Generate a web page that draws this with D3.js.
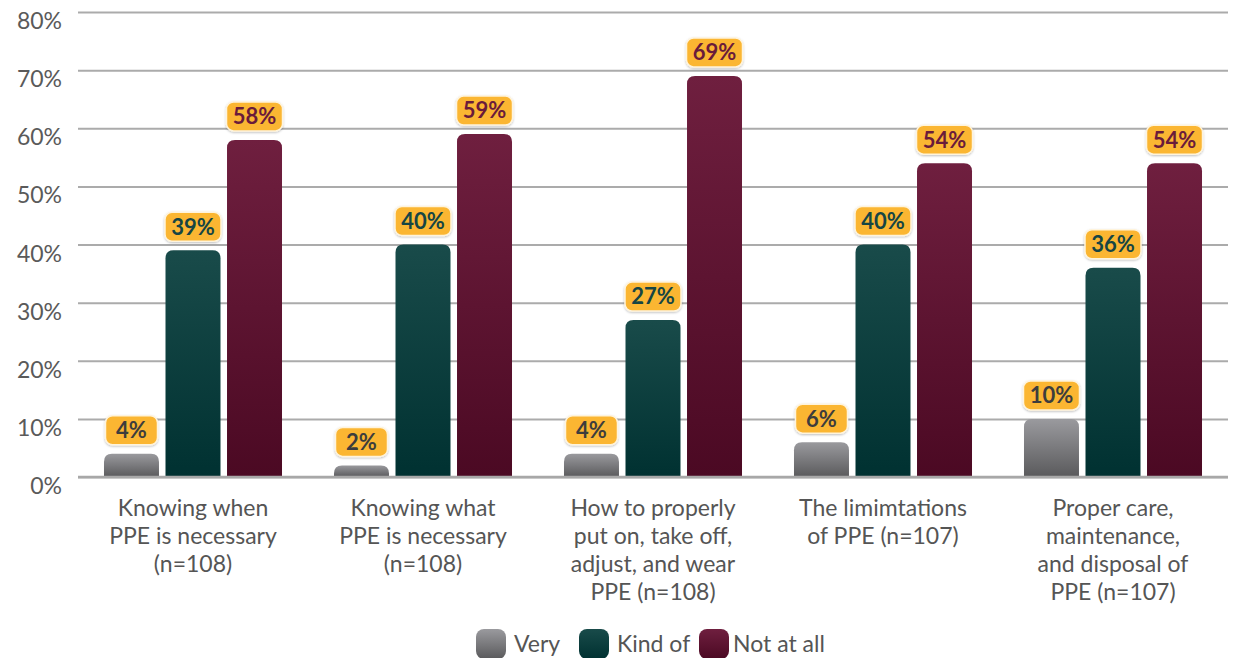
<!DOCTYPE html>
<html>
<head>
<meta charset="utf-8">
<script src="https://cdn.jsdelivr.net/npm/d3@7"></script>
<style>
  html, body { margin: 0; padding: 0; background: #fff; }
  svg { display: block; font-family: Lato, "Open Sans", sans-serif; }
</style>
</head>
<body>
<svg id="chart" width="1234" height="658"></svg>
<script>
// Survey topics (x-axis categories)
const categories = [
  ["Knowing when", "PPE is necessary", "(n=108)"],
  ["Knowing what", "PPE is necessary", "(n=108)"],
  ["How to properly", "put on, take off,", "adjust, and wear", "PPE (n=108)"],
  ["The limimtations", "of PPE (n=107)"],
  ["Proper care,", "maintenance,", "and disposal of", "PPE (n=107)"]
];
const seriesNames = ["Very", "Kind of", "Not at all"];
const very     = [4, 2, 4, 6, 10];
const kindOf   = [39, 40, 27, 40, 36];
const notAtAll = [58, 59, 69, 54, 54];
const yTicks   = [0, 10, 20, 30, 40, 50, 60, 70, 80];

const seriesValues = [very, kindOf, notAtAll];
const gradStops = [
  ["#9a9a9e", "#5a5a5c"],
  ["#194b4a", "#003131"],
  ["#6f1f3f", "#4b0923"]
];
const labelColors = ["#3d3d3d", "#164544", "#6a1b3b"];

const svg = d3.select("#chart");
const margin = { left: 78, right: 6, top: 12, bottom: 181 };
const W = 1234, H = 658;
const x0 = d3.scaleBand()
  .domain(d3.range(categories.length))
  .range([margin.left, W - margin.right])
  .paddingInner(0.226)
  .paddingOuter(0.113);
const x1 = d3.scaleBand()
  .domain(d3.range(seriesNames.length))
  .range([0, x0.bandwidth()])
  .paddingInner(0.106);
const y = d3.scaleLinear().domain([0, 80]).range([H - margin.bottom, margin.top]);

// gradients
const defs = svg.append("defs");
gradStops.forEach((g, i) => {
  const lg = defs.append("linearGradient").attr("id", "g" + i)
    .attr("x1", 0).attr("y1", 0).attr("x2", 0).attr("y2", 1);
  lg.append("stop").attr("offset", "0%").attr("stop-color", g[0]);
  lg.append("stop").attr("offset", "100%").attr("stop-color", g[1]);
});
const shadow = defs.append("filter").attr("id", "sh")
  .attr("x", "-20%").attr("y", "-20%").attr("width", "140%").attr("height", "150%");
shadow.append("feDropShadow").attr("dx", 0).attr("dy", 1).attr("stdDeviation", 1.2)
  .attr("flood-color", "#000").attr("flood-opacity", 0.25);

// gridlines
const yAxis = d3.axisLeft(y).tickValues(yTicks)
  .tickSize(-(W - margin.right - margin.left))
  .tickFormat(d => d + "%");
const ga = svg.append("g").attr("transform", `translate(${margin.left},0)`).call(yAxis);
ga.select(".domain").remove();
ga.selectAll(".tick line").attr("stroke", "#ababab").attr("stroke-width", 2);
ga.selectAll(".tick text")
  .attr("x", -16).attr("dy", "0.72em")
  .attr("fill", "#5a5a5a").attr("font-size", 23).attr("font-family", "Lato, sans-serif");

// rounded-top bar path
function topRounded(x, yTop, w, h, r) {
  r = Math.min(r, h, w / 2);
  return `M${x},${yTop + h}V${yTop + r}Q${x},${yTop} ${x + r},${yTop}H${x + w - r}Q${x + w},${yTop} ${x + w},${yTop + r}V${yTop + h}Z`;
}

const groups = svg.append("g").selectAll("g")
  .data(categories.map((c, i) => i))
  .join("g")
  .attr("transform", i => `translate(${x0(i)},0)`);

groups.each(function (ci) {
  const g = d3.select(this);
  seriesValues.forEach((vals, si) => {
    const v = vals[ci];
    const bx = x1(si), bw = x1.bandwidth();
    const yTop = y(v), h = y(0) - y(v);
    g.append("path")
      .attr("d", topRounded(bx, yTop, bw, h, 8))
      .attr("fill", `url(#g${si})`);
    // value label
    const bh = 29, bwid = v >= 10 ? 56 : 52;
    const cx = bx + bw / 2;
    const boxBottom = yTop - 9;
    g.append("rect")
      .attr("x", cx - bwid / 2).attr("y", boxBottom - bh)
      .attr("width", bwid).attr("height", bh)
      .attr("rx", 7)
      .attr("fill", "#fbb632")
      .attr("stroke", "#fff4dc").attr("stroke-width", 1.5)
      .attr("filter", "url(#sh)");
    g.append("text")
      .attr("x", cx).attr("y", boxBottom - bh / 2)
      .attr("dy", "0.36em")
      .attr("text-anchor", "middle")
      .attr("font-weight", 700).attr("font-size", 22)
      .attr("fill", labelColors[si])
      .text(v + "%");
  });
});

// baseline
svg.append("line")
  .attr("x1", margin.left).attr("x2", W - margin.right)
  .attr("y1", y(0)).attr("y2", y(0))
  .attr("stroke", "#a8a8a8").attr("stroke-width", 2.5);

// category labels
categories.forEach((lines, i) => {
  const t = svg.append("text")
    .attr("x", x0(i) + x0.bandwidth() / 2)
    .attr("y", y(0) + 39)
    .attr("text-anchor", "middle")
    .attr("font-size", 23).attr("fill", "#555");
  lines.forEach((ln, k) => {
    t.append("tspan").attr("x", x0(i) + x0.bandwidth() / 2)
      .attr("y", y(0) + 39 + k * 28).text(ln);
  });
});

// legend
const legendX = [476, 579, 699];
const leg = svg.append("g");
seriesNames.forEach((name, i) => {
  leg.append("rect")
    .attr("x", legendX[i]).attr("y", 629)
    .attr("width", 30).attr("height", 30).attr("rx", 8)
    .attr("fill", `url(#g${i})`);
  leg.append("text")
    .attr("x", legendX[i] + (i === 2 ? 34 : 38)).attr("y", 652)
    .attr("font-size", 23).attr("fill", "#555")
    .text(name);
});
</script>
</body>
</html>
